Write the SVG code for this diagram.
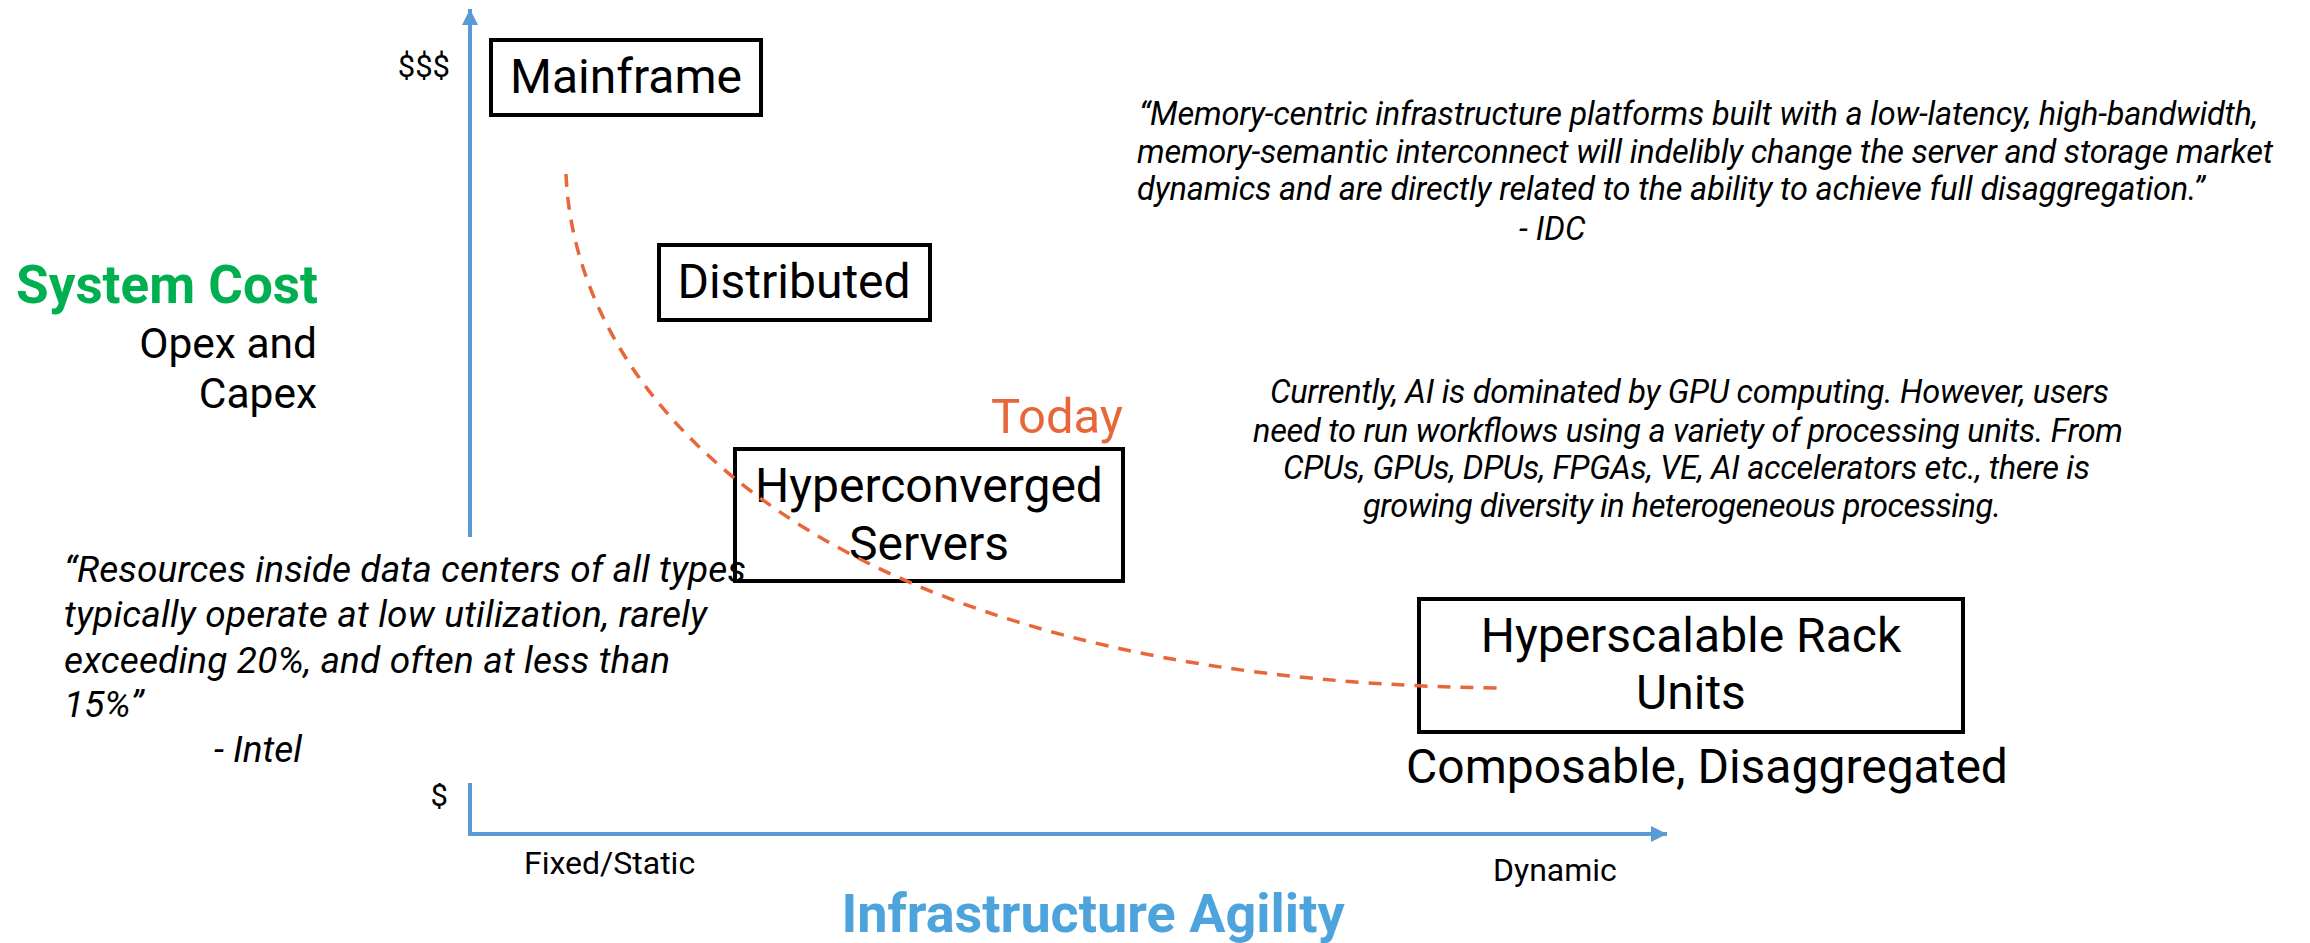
<svg xmlns="http://www.w3.org/2000/svg" width="2310" height="943" viewBox="0 0 2310 943">
  <defs>
    <style>
      text { font-family: Roboto, "Liberation Sans", sans-serif; fill: #000; }
      .box { fill: none; stroke: #000; stroke-width: 4; }
      .lbl { font-size: 48px; text-anchor: middle; }
      .q { font-style: italic; }
      .qi { font-size: 37px; }
      .qs { font-size: 32.5px; }
      .tick { font-size: 31px; }
      .axis { stroke: #5B9BD5; stroke-width: 4; fill: none; }
      .trend { fill: none; stroke: #E8673A; stroke-width: 3.5; stroke-dasharray: 13 10; }
    </style>
    <marker id="axhead" markerUnits="userSpaceOnUse" markerWidth="18" markerHeight="18" refX="16" refY="8" orient="auto">
      <path d="M0,0 L16,8 L0,16 Z" fill="#5B9BD5"/>
    </marker>
  </defs>
  <rect width="2310" height="943" fill="#fff"/>

  <!-- axes -->
  <g id="connectors">
    <line class="axis" x1="470" y1="836" x2="470" y2="9" marker-end="url(#axhead)"/>
    <line class="axis" x1="468" y1="834" x2="1667" y2="834" marker-end="url(#axhead)"/>
  </g>

  <!-- axis labels -->
  <g id="axis-labels">
    <text class="tick" x="450" y="77" text-anchor="end">$$$</text>
    <text class="tick" x="448" y="806" text-anchor="end">$</text>
    <text x="524" y="874" style="font-size:32px">Fixed/Static</text>
    <text x="1493" y="881" style="font-size:32px">Dynamic</text>
    <text x="1093" y="932" text-anchor="middle" style="font-size:54px;font-weight:bold;fill:#4DA3DB">Infrastructure Agility</text>
    <text x="318" y="303" text-anchor="end" style="font-size:53px;font-weight:bold;fill:#00B050">System Cost</text>
    <text x="317" y="358" text-anchor="end" style="font-size:42.5px">Opex and</text>
    <text x="317" y="408" text-anchor="end" style="font-size:42.5px">Capex</text>
  </g>

  <!-- utilization quote; its white backing interrupts the cost axis -->
  <g id="quote-intel">
    <rect x="40" y="537" width="695" height="246" fill="#fff"/>
    <text class="q qi" x="64" y="582" textLength="682">“Resources inside data centers of all types</text>
    <text class="q qi" x="64" y="627" textLength="643">typically operate at low utilization, rarely</text>
    <text class="q qi" x="64" y="673" textLength="606">exceeding 20%, and often at less than</text>
    <text class="q qi" x="64" y="717">15%”</text>
    <text class="q qi" x="214" y="762">- Intel</text>
  </g>

  <g id="quote-idc">
    <text class="q qs" x="1139" y="125" textLength="1119">“Memory-centric infrastructure platforms built with a low-latency, high-bandwidth,</text>
    <text class="q qs" x="1137" y="163" textLength="1136">memory-semantic interconnect will indelibly change the server and storage market</text>
    <text class="q qs" x="1137" y="200" textLength="1068">dynamics and are directly related to the ability to achieve full disaggregation.”</text>
    <text class="q qs" x="1519" y="240">- IDC</text>
  </g>

  <g id="note-ai">
    <text class="q qs" x="1270" y="403" textLength="839">Currently, AI is dominated by GPU computing. However, users</text>
    <text class="q qs" x="1253" y="442" textLength="870">need to run workflows using a variety of processing units. From</text>
    <text class="q qs" x="1283" y="479" textLength="807">CPUs, GPUs, DPUs, FPGAs, VE, AI accelerators etc., there is</text>
    <text class="q qs" x="1363" y="517" textLength="638">growing diversity in heterogeneous processing.</text>
  </g>

  <!-- architecture stages -->
  <g id="node-mainframe">
    <rect class="box" x="491" y="40" width="270" height="75"/>
    <text class="lbl" x="626" y="93">Mainframe</text>
  </g>
  <g id="node-distributed">
    <rect class="box" x="659" y="245" width="271" height="75"/>
    <text class="lbl" x="794" y="298">Distributed</text>
  </g>
  <g id="node-hyperconverged">
    <text x="1123" y="433" text-anchor="end" style="font-size:49px;fill:#E8673A">Today</text>
    <rect class="box" x="735" y="449" width="388" height="132"/>
    <text class="lbl" x="929" y="502">Hyperconverged</text>
    <text class="lbl" x="929" y="560">Servers</text>
  </g>
  <g id="node-hyperscalable">
    <rect class="box" x="1419" y="599" width="544" height="133"/>
    <text class="lbl" x="1691" y="652">Hyperscalable Rack</text>
    <text class="lbl" x="1691" y="709">Units</text>
    <text class="lbl" x="1707" y="783">Composable, Disaggregated</text>
  </g>

  <!-- cost trend curve -->
  <g id="trend">
    <path class="trend" d="M566,174 C575,400 820,680 1498,688"/>
  </g>
</svg>
